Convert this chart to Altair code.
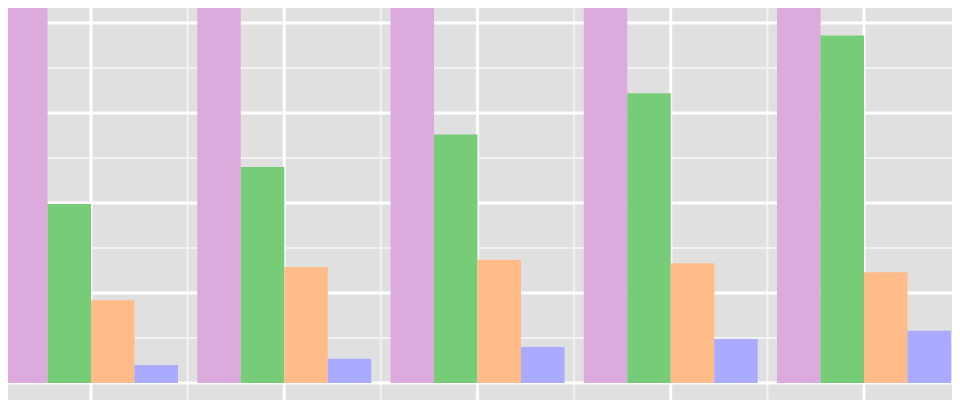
import altair as alt
import pandas as pd

# ---- data ----
groups = [1, 2, 3, 4, 5]
series = ["A", "B", "C", "D"]
pink = [55.0, 60.0, 65.0, 70.0, 75.0]      # clipped above the window
green = [19.9, 24.0, 27.6, 32.2, 38.6]
orange = [9.2, 12.9, 13.7, 13.3, 12.3]
blue = [2.0, 2.7, 4.0, 4.9, 5.8]
colors = ["#dcaadc", "#77cc77", "#ffbb88", "#aaaaff"]

major_x = [1, 2, 3, 4, 5]
minor_x = [0.5, 1.5, 2.5, 3.5, 4.5, 5.5]
major_y = [0, 10, 20, 30, 40]
minor_y = [5, 15, 25, 35]

# visible window of the (larger, zoomed-in) plot
x_domain = [0.5705, 5.4554]
y_domain = [-1.889, 41.667]

dodge = 0.9
bw = dodge / len(series)
rows = []
for vals, s in zip([pink, green, orange, blue], series):
    k = series.index(s)
    for g, v in zip(groups, vals):
        x0 = g - dodge / 2 + k * bw
        rows.append({"g": g, "series": s, "x0": x0, "x1": x0 + bw, "value": v})
bars_df = pd.DataFrame(rows)

xs = alt.Scale(domain=x_domain, nice=False, zero=False)
ys = alt.Scale(domain=y_domain, nice=False, zero=False)

minor_v = alt.Chart(pd.DataFrame({"x": minor_x})).mark_rule(
    color="#f2f2f2", strokeWidth=2, clip=True
).encode(x=alt.X("x:Q", scale=xs, axis=None))
minor_h = alt.Chart(pd.DataFrame({"y": minor_y})).mark_rule(
    color="#f2f2f2", strokeWidth=2, clip=True
).encode(y=alt.Y("y:Q", scale=ys, axis=None))
major_v = alt.Chart(pd.DataFrame({"x": major_x})).mark_rule(
    color="#ffffff", strokeWidth=3, clip=True
).encode(x=alt.X("x:Q", scale=xs, axis=None))
major_h = alt.Chart(pd.DataFrame({"y": major_y})).mark_rule(
    color="#ffffff", strokeWidth=3, clip=True
).encode(y=alt.Y("y:Q", scale=ys, axis=None))

bars = alt.Chart(bars_df).mark_bar(clip=True).encode(
    x=alt.X("x0:Q", scale=xs, axis=None),
    x2="x1:Q",
    y=alt.Y("value:Q", scale=ys, axis=None),
    y2=alt.datum(0),
    color=alt.Color("series:N", scale=alt.Scale(domain=series, range=colors), legend=None),
)

chart = alt.layer(minor_v, minor_h, major_v, major_h, bars).properties(
    width=944,
    height=392,
    padding=0,
    autosize=alt.AutoSizeParams(type="none"),
    background="#e0e0e0",
).configure_view(fill="#e0e0e0", stroke=None)

chart.save("out.html", embed_options={"renderer": "svg", "actions": False})
